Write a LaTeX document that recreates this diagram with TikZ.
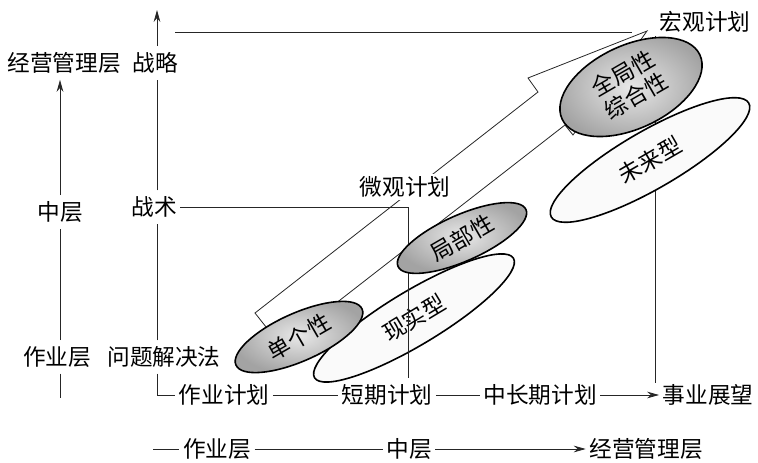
\documentclass[tikz,border=0pt]{standalone}
\usepackage{fontspec}
\newfontfamily\cjk{Noto Sans CJK SC}
\usetikzlibrary{shapes.geometric,arrows.meta}
\begin{document}
\begin{tikzpicture}[x=0.75pt,y=-0.75pt,
  lbl/.style={font=\cjk\fontsize{17}{20}\selectfont, inner xsep=2.5pt, inner ysep=4.5pt},
  ln/.style={draw=black!85, line width=0.6pt},
  arr/.style={ln, -{Stealth[length=9pt,width=5pt]}},
  ellbase/.style={ellipse, draw=black, line width=1.2pt, inner sep=0pt,
    font=\cjk\fontsize{17}{20}\selectfont, align=center},
  darkell/.style={ellbase, inner color=gray!18, outer color=gray!72},
  lightell/.style={ellbase, fill=gray!4}
]
\useasboundingbox (0,0) rectangle (758,463);

% big arrow outline
\draw[ln] (255,313) -- (538,92) -- (528,78) -- (647,31) -- (573,135) -- (565,125) -- (281,346) -- cycle;

% coordinates
\coordinate (ax1) at (60,0);
\coordinate (ax2) at (157,0);

% left labels
\node[lbl] (jyL) at (64,63) {经营管理层};
\node[lbl] (zcL) at (60,212) {中层};
\node[lbl] (zyL) at (57,357) {作业层};
\coordinate (ax1end) at (60,398);

\node[lbl] (zl) at (155,63) {战略};
\node[lbl] (zs) at (154,207) {战术};
\node[lbl] (wt) at (164,357) {问题解决法};
\coordinate (ax2top) at (157,10);

% bottom rows
\node[lbl] (zyjh) at (224,395) {作业计划};
\node[lbl] (dq) at (387,395) {短期计划};
\node[lbl] (zcq) at (540,395) {中长期计划};
\node[lbl] (sy) at (708,395) {事业展望};

\coordinate (r2s) at (153,449);
\node[lbl] (zy2) at (217,449) {作业层};
\node[lbl] (zc2) at (409,449) {中层};
\node[lbl] (jy2) at (646,449) {经营管理层};

% top labels
\node[lbl] (hg) at (705,22) {宏观计划};
\node[lbl, fill=white, inner ysep=2pt] (wg) at (405,187) {微观计划};

% light ellipse (behind lines)
\node[lightell, minimum width=174pt, minimum height=40.5pt, rotate=31] (e2) at (414,318) {现实型};

% axis 1
\draw[arr] (zcL.north -| ax1) -- (jyL.south -| ax1);
\draw[ln] (zyL.north -| ax1) -- (zcL.south -| ax1);
\draw[ln] (zyL.south -| ax1) -- (ax1end);

% axis 2
\draw[arr] (zl.north -| ax2) -- (ax2top);
\draw[ln] (zs.north -| ax2) -- (zl.south -| ax2);
\draw[ln] (wt.north -| ax2) -- (zs.south -| ax2);
\draw[ln] (wt.south -| ax2) |- (zyjh.west);

% row 1
\draw[ln] (zyjh) -- (dq);
\draw[ln] (dq) -- (zcq);
\draw[arr] (zcq) -- (sy);

% row 2
\draw[ln] (r2s) -- (zy2);
\draw[ln] (zy2) -- (zc2);
\draw[arr] (zc2) -- (jy2);

% top line
\coordinate (tl1) at (175,32);
\coordinate (tl2) at (632,32);
\draw[ln] (tl1) -- (tl2);

% tactic line
\coordinate (c408) at (408,207);
\draw[ln] (zs.east) -- (c408) -- (c408 |- dq.north);

% macro vertical
\coordinate (v3a) at (655,36);
\coordinate (v3b) at (655,383);
\draw[ln] (v3a) -- (v3b);

% remaining ellipses
\node[lightell, minimum width=171pt, minimum height=43.5pt, rotate=30] (e5) at (650,160) {未来型};
\node[darkell, minimum width=103.5pt, minimum height=36pt, rotate=24] (e1) at (299,337) {\rotatebox{6}{单个性}};
\node[darkell, minimum width=105pt, minimum height=34.5pt, rotate=24] (e3) at (462,238) {\rotatebox{6}{局部性}};
\node[darkell, minimum width=114pt, minimum height=58.5pt, rotate=25] (e4) at (631,87)
  {\rotatebox{5}{\begin{tabular}{@{}c@{}}全局性\\[-1pt]综合性\end{tabular}}};
\end{tikzpicture}
\end{document}
